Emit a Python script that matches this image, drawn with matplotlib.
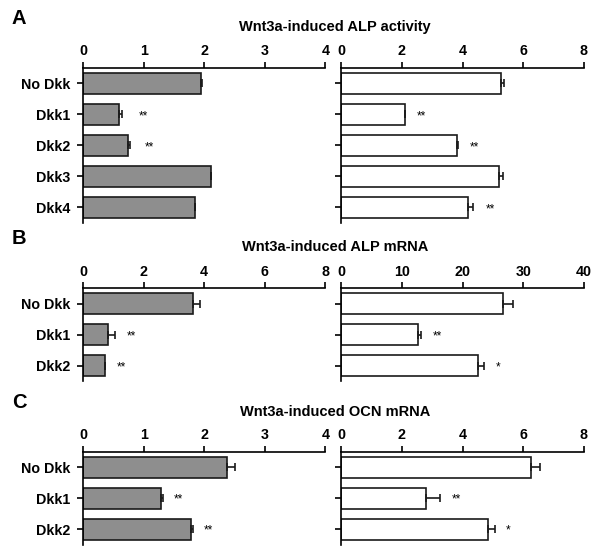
import numpy as np
import matplotlib.pyplot as plt

plt.rcParams['font.family'] = ['Liberation Sans', 'DejaVu Sans']

# panel A: ALP activity
catA = ["No Dkk", "Dkk1", "Dkk2", "Dkk3", "Dkk4"]
A_left = [1.94, 0.60, 0.75, 2.12, 1.85]
A_left_err = [0.03, 0.05, 0.02, 0.0, 0.0]
A_left_sig = ["", "**", "**", "", ""]
A_left_sigx = [0, 1.0, 1.1, 0, 0]
A_right = [5.25, 2.10, 3.82, 5.20, 4.18]
A_right_err = [0.12, 0.0, 0.02, 0.12, 0.15]
A_right_sig = ["", "**", "**", "", "**"]
A_right_sigx = [0, 2.65, 4.4, 0, 4.9]

# panel B: ALP mRNA
catB = ["No Dkk", "Dkk1", "Dkk2"]
B_left = [3.62, 0.82, 0.74]
B_left_err = [0.24, 0.25, 0.0]
B_left_sig = ["", "**", "**"]
B_left_sigx = [0, 1.6, 1.28]
B_right = [26.6, 12.6, 22.5]
B_right_err = [1.65, 0.5, 1.05]
B_right_sig = ["", "**", "*"]
B_right_sigx = [0, 15.8, 25.8]

# panel C: OCN mRNA
catC = ["No Dkk", "Dkk1", "Dkk2"]
C_left = [2.37, 1.29, 1.79]
C_left_err = [0.14, 0.03, 0.03]
C_left_sig = ["", "**", "**"]
C_left_sigx = [0, 1.57, 2.07]
C_right = [6.24, 2.78, 4.83]
C_right_err = [0.31, 0.48, 0.25]
C_right_sig = ["", "**", "*"]
C_right_sigx = [0, 3.8, 5.5]

titles = ["Wnt3a-induced ALP activity", "Wnt3a-induced ALP mRNA", "Wnt3a-induced OCN mRNA"]
letters = ["A", "B", "C"]


def draw(ax, cats, vals, errs, sig, sigx, xmax, xticks, color, labels):
    y = np.arange(len(cats))
    ax.barh(y, vals, height=0.68, color=color, edgecolor="#1a1a1a", linewidth=1.2,
            xerr=[np.zeros(len(errs)), errs], error_kw=dict(ecolor="#1a1a1a", elinewidth=1.2,
                                                            capsize=3, capthick=1.2))
    for i in range(len(cats)):
        if sig[i]:
            ax.text(sigx[i], y[i] + 0.05, sig[i], ha="center", va="center", fontsize=8.5)
    ax.set_ylim(len(cats) - 0.5, -0.5)
    ax.set_xlim(0, xmax)
    ax.set_xticks(xticks)
    ax.xaxis.tick_top()
    ax.spines["right"].set_visible(False)
    ax.spines["bottom"].set_visible(False)
    for s in ["top", "left"]:
        ax.spines[s].set_linewidth(1.2)
    ax.tick_params(axis="x", direction="out", length=4, width=1.2, pad=3, labelsize=10.3)
    ax.tick_params(axis="y", direction="out", length=4, width=1.2, pad=5, labelsize=10.3)
    ax.set_yticks(y)
    if labels:
        ax.set_yticklabels(cats, fontweight="bold")
    else:
        ax.set_yticklabels([])
    for t in ax.get_xticklabels():
        t.set_fontweight("bold")


fig = plt.figure(figsize=(6, 5.55), dpi=100)

panels = [
    (catA, A_left, A_left_err, A_left_sig, A_left_sigx, 4, [0, 1, 2, 3, 4],
     A_right, A_right_err, A_right_sig, A_right_sigx, 8, [0, 2, 4, 6, 8]),
    (catB, B_left, B_left_err, B_left_sig, B_left_sigx, 8, [0, 2, 4, 6, 8],
     B_right, B_right_err, B_right_sig, B_right_sigx, 40, [0, 10, 20, 30, 40]),
    (catC, C_left, C_left_err, C_left_sig, C_left_sigx, 4, [0, 1, 2, 3, 4],
     C_right, C_right_err, C_right_sig, C_right_sigx, 8, [0, 2, 4, 6, 8]),
]
tops = [0.8775, 0.4805, 0.1861]
row_h = 31.0 / 555
title_y = [0.951, 0.5555, 0.258]
letter_y = [0.967, 0.571, 0.274]

for k, p in enumerate(panels):
    cats = p[0]
    h = row_h * len(cats)
    b = tops[k] - h
    axl = fig.add_axes([0.1383, b, 0.404, h])
    axr = fig.add_axes([0.5688, b, 0.4045, h])
    draw(axl, cats, p[1], p[2], p[3], p[4], p[5], p[6], "#8e8e8e", True)
    draw(axr, cats, p[7], p[8], p[9], p[10], p[11], p[12], "white", False)
    fig.text(0.558, title_y[k], titles[k], ha="center", va="center", fontsize=10.5,
             fontweight="bold")
    fig.text(0.032, letter_y[k], letters[k], ha="center", va="center", fontsize=14.5,
             fontweight="bold")

fig.savefig("out.png", dpi=100)
